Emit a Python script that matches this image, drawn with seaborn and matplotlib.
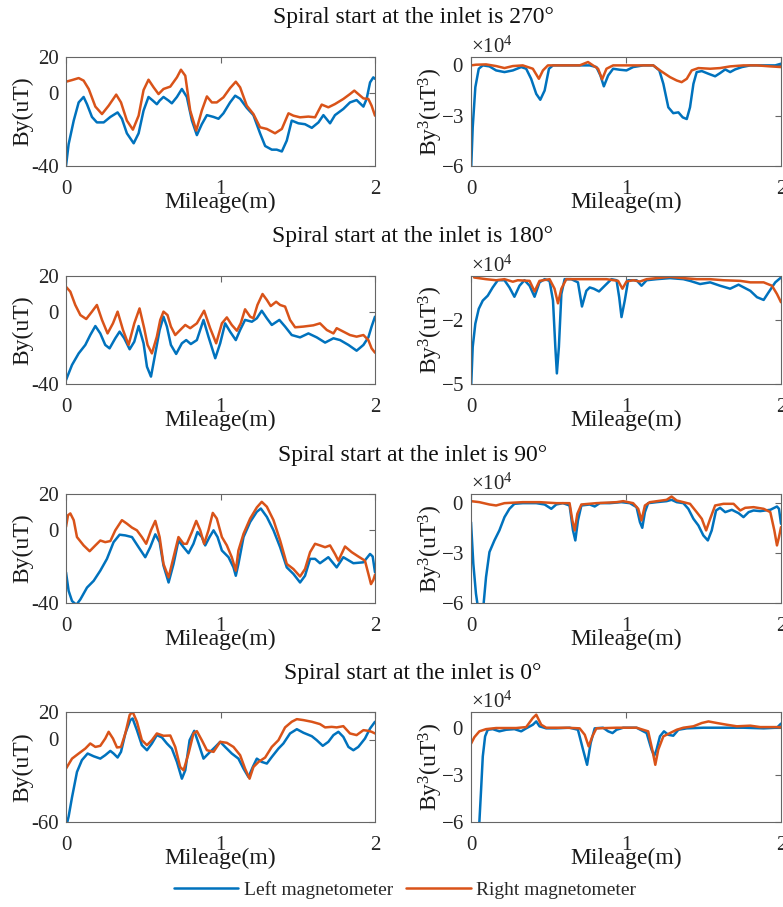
import numpy as np
import pandas as pd
import matplotlib
matplotlib.use("Agg")
import matplotlib.pyplot as plt
import seaborn as sns
from matplotlib.ticker import ScalarFormatter, FixedLocator

# ---------------- data ----------------
titles = ["Spiral start at the inlet is 270°", "Spiral start at the inlet is 180°",
          "Spiral start at the inlet is 90°", "Spiral start at the inlet is 0°"]
series_names = ["Left magnetometer", "Right magnetometer"]
colors = ["#0072BD", "#D95319"]
x_ticks = [0, 1, 2]

# ---- 270 deg ----
by270_left_x = [0,0.017,0.050,0.082,0.114,0.136,0.168,0.200,0.244,0.287,0.334,0.362,0.394,0.438,0.470,0.502,0.534,0.562,0.588,0.606,0.631,0.664,0.685,0.718,0.750,0.782,0.815,0.847,0.879,0.912,0.955,0.987,1.019,1.062,1.095,1.127,1.170,1.213,1.256,1.289,1.332,1.364,1.397,1.429,1.461,1.504,1.547,1.591,1.634,1.666,1.709,1.741,1.795,1.838,1.881,1.925,1.946,1.968,1.989,2.0]
by270_left_y = [-40,-28,-15,-5,-2,-6,-13,-16,-16,-13,-10.5,-14,-22,-27.5,-22,-9.5,-2,-4,-6,-4,-2,-4,-5.5,-2,2.4,-2,-15,-23,-17,-12,-13,-14,-11,-5,-1.3,-3,-8,-12,-22,-29,-31,-31,-32,-26,-15,-16.5,-17,-19,-16,-12,-16.5,-12,-8.6,-5,-3.7,-7.3,-3,6,8.8,8]
by270_right_x = [0,0.039,0.082,0.114,0.147,0.190,0.233,0.276,0.325,0.356,0.394,0.433,0.470,0.502,0.534,0.567,0.599,0.631,0.675,0.718,0.744,0.772,0.804,0.843,0.879,0.912,0.944,0.976,1.019,1.062,1.099,1.127,1.170,1.213,1.256,1.300,1.353,1.397,1.440,1.472,1.515,1.569,1.612,1.655,1.698,1.741,1.795,1.838,1.866,1.892,1.925,1.957,1.978,2.0]
by270_right_y = [6.4,7.3,8.4,7,2.4,-7.3,-11.4,-6.8,-0.7,-5,-15,-20,-12.3,1.8,7.5,3.3,-0.4,2.4,3.7,8.8,13,9.7,-9.5,-20.5,-9.5,-1.7,-5,-5,-2.2,2.9,6.4,3.3,-6.8,-11.4,-18.7,-19.6,-22,-19.6,-11,-12.3,-13.2,-12.8,-13.2,-6.2,-7.7,-5.9,-3.1,-0.4,1.5,-0.4,-2.8,-3.1,-6.8,-12.3]
cube270_left_x = [0,0.011,0.028,0.050,0.076,0.119,0.162,0.216,0.270,0.324,0.356,0.388,0.421,0.447,0.475,0.503,0.529,0.593,0.680,0.766,0.809,0.835,0.857,0.885,0.917,0.960,1.003,1.046,1.111,1.176,1.215,1.241,1.273,1.305,1.338,1.366,1.392,1.413,1.435,1.456,1.489,1.532,1.575,1.607,1.640,1.672,1.704,1.748,1.802,1.888,1.963,2.0]
cube270_left_y = [-6.4,-3.7,-1.3,-0.2,0,-0.06,-0.3,-0.4,-0.3,-0.1,-0.2,-0.8,-1.7,-2.05,-1.5,-0.2,0,0,0,0,-0.1,-0.6,-1.25,-0.6,-0.2,-0.26,-0.3,-0.1,0,0,-0.3,-1.1,-2.5,-2.85,-2.8,-3.1,-3.2,-2.5,-1.1,-0.4,-0.34,-0.5,-0.65,-0.46,-0.24,-0.4,-0.24,-0.1,0,0,0,0.1]
cube270_right_x = [0,0.032,0.097,0.162,0.216,0.270,0.334,0.399,0.438,0.464,0.496,0.593,0.701,0.755,0.787,0.820,0.846,0.874,0.917,1.025,1.176,1.219,1.284,1.327,1.359,1.392,1.424,1.467,1.543,1.607,1.672,1.758,1.845,1.931,2.0]
cube270_right_y = [0,0.04,0.06,-0.04,-0.16,-0.04,0,-0.2,-0.8,-0.3,0,0,0,0.2,0,-0.2,-0.83,-0.2,0,0,0,-0.3,-0.7,-0.9,-1.0,-0.8,-0.3,-0.16,-0.2,-0.16,-0.06,0,0,-0.06,-0.1]

# ---- 180 deg ----
by180_left_x = [0,0.039,0.082,0.125,0.157,0.190,0.222,0.254,0.282,0.319,0.347,0.377,0.412,0.442,0.470,0.502,0.524,0.550,0.578,0.606,0.631,0.653,0.679,0.713,0.750,0.778,0.808,0.847,0.890,0.922,0.966,0.998,1.030,1.062,1.099,1.127,1.159,1.203,1.235,1.267,1.300,1.332,1.381,1.418,1.461,1.515,1.569,1.623,1.677,1.731,1.774,1.828,1.881,1.925,1.957,1.978,2.0]
by180_left_y = [-37.8,-29.4,-23,-18.3,-12.8,-7.8,-11.9,-18.3,-20.2,-14.6,-10.9,-14.6,-20.7,-16.5,-7.8,-17.4,-30.4,-35.9,-23,-10,-2.6,-8.1,-18.3,-23.3,-17.4,-15.6,-17.8,-15.6,-4.4,-13.7,-25.7,-17.4,-6.3,-10.9,-15.6,-10,-4.4,-5.4,-3.5,0.7,-3.5,-7.2,-4.4,-8.1,-12.8,-14.1,-11.9,-14.1,-17,-14.6,-15.6,-18.3,-21.5,-18.3,-14.1,-8.1,-2.6]
by180_right_x = [0,0.028,0.060,0.093,0.131,0.168,0.200,0.233,0.269,0.304,0.334,0.369,0.405,0.442,0.476,0.506,0.528,0.556,0.588,0.610,0.631,0.657,0.679,0.707,0.739,0.772,0.804,0.847,0.894,0.933,0.972,1.009,1.041,1.073,1.106,1.131,1.159,1.192,1.213,1.239,1.272,1.300,1.325,1.360,1.386,1.418,1.450,1.483,1.537,1.601,1.644,1.688,1.731,1.752,1.795,1.838,1.881,1.925,1.957,1.978,2.0]
by180_right_y = [14,11.3,3.9,-1.7,-3.9,0.2,3.9,-4.4,-11.9,-6.3,0.2,-10,-18.3,-6.3,2,-9,-18.3,-23,-13.7,-4.4,0.2,-1.7,-8.1,-12.8,-10,-7.2,-9,-6.3,0.7,-9,-17.4,-6.3,-3,-7.2,-10.4,-6.3,1.5,-2.6,-3.5,3.9,10,6.7,3.3,5.7,3.9,3,-4.4,-8.5,-8.1,-7.4,-6.3,-10,-11.9,-9,-10.9,-12.8,-13.7,-12.8,-15.6,-20.2,-22.6]
cube180_left_x = [0,0.011,0.028,0.050,0.076,0.108,0.140,0.173,0.216,0.248,0.280,0.313,0.345,0.378,0.410,0.442,0.475,0.507,0.529,0.544,0.554,0.567,0.583,0.604,0.647,0.690,0.716,0.744,0.766,0.792,0.826,0.863,0.906,0.939,0.956,0.971,0.992,1.014,1.068,1.100,1.133,1.197,1.284,1.370,1.413,1.478,1.543,1.607,1.672,1.726,1.802,1.845,1.888,1.920,1.963,2.0]
cube180_left_y = [-5.3,-3.25,-2.15,-1.45,-1.06,-0.83,-0.44,-0.1,-0.1,-0.44,-0.88,-0.36,-0.1,-0.36,-0.88,-0.2,-0.05,-0.13,-1.06,-3.25,-4.5,-3.25,-0.75,-0.05,-0.05,-0.2,-1.34,-0.6,-0.44,-0.5,-0.63,-0.36,-0.05,-0.1,-0.9,-1.84,-1.06,-0.1,-0.1,-0.36,-0.1,-0.05,0,-0.05,-0.13,-0.28,-0.2,-0.36,-0.5,-0.31,-0.6,-0.9,-1.03,-0.67,-0.2,0.03]
cube180_right_x = [0.02,0.097,0.162,0.216,0.270,0.302,0.378,0.410,0.442,0.507,0.539,0.561,0.583,0.615,0.680,0.766,0.874,0.949,0.977,1.003,1.046,1.090,1.133,1.197,1.284,1.370,1.456,1.543,1.629,1.737,1.802,1.888,1.942,1.974,2.0]
cube180_right_y = [0.03,-0.05,-0.1,-0.05,-0.17,-0.1,-0.13,-0.63,-0.13,-0.05,-0.5,-1.19,-0.5,-0.05,-0.05,-0.05,-0.05,-0.13,-0.5,-0.16,-0.1,-0.16,-0.05,0,0.06,0,-0.05,-0.05,-0.1,-0.13,-0.2,-0.2,-0.36,-0.75,-1.14]

# ---- 90 deg ----
by90_left_x = [0,0.017,0.039,0.067,0.093,0.136,0.179,0.222,0.265,0.308,0.347,0.384,0.427,0.470,0.513,0.545,0.578,0.606,0.631,0.664,0.696,0.728,0.761,0.793,0.825,0.851,0.879,0.901,0.929,0.955,0.981,1.009,1.052,1.084,1.099,1.116,1.149,1.192,1.235,1.261,1.300,1.343,1.386,1.429,1.472,1.515,1.547,1.580,1.612,1.644,1.698,1.752,1.795,1.860,1.925,1.968,1.985,2.0]
by90_left_y = [-23.1,-33.3,-38.9,-41,-38,-31.5,-27.8,-22.2,-15.7,-6.5,-2.4,-2.8,-3.7,-9.3,-14.8,-9.3,-2.2,-6.5,-19.4,-28.7,-18.5,-5.6,-9.3,-12.6,-7.4,-0.9,-3.7,-8.3,-3.7,0,-3.7,-11.1,-14.8,-20.4,-25,-18.5,-3.7,4.6,10.2,12,7.4,0,-9.3,-20.4,-24,-28.7,-25,-15.7,-15.7,-18.1,-14.8,-20.4,-14.8,-18.1,-17.6,-13,-14.4,-23.1]
by90_right_x = [0,0.013,0.028,0.050,0.071,0.114,0.153,0.190,0.222,0.254,0.287,0.319,0.362,0.394,0.427,0.459,0.491,0.519,0.550,0.578,0.606,0.631,0.664,0.696,0.728,0.761,0.782,0.815,0.843,0.869,0.894,0.922,0.950,0.976,1.009,1.041,1.073,1.099,1.116,1.149,1.192,1.235,1.267,1.300,1.343,1.386,1.429,1.472,1.515,1.547,1.580,1.612,1.644,1.677,1.709,1.741,1.763,1.806,1.849,1.892,1.935,1.963,1.974,1.989,2.0]
by90_right_y = [1.9,8.3,9.3,5.6,-3.7,-8.3,-11.5,-8.3,-5.6,-6.5,-5.9,0,5.6,3.7,1.5,0,-3.7,-7.4,0,5.2,-3.7,-18.5,-25.9,-14.8,-3.7,-7.4,-7.4,-0.9,5.2,0,-7.4,0,9.6,6.5,-3.7,-8.3,-14.8,-22.2,-11.1,-1.9,6.5,12.6,15.7,13,5.6,-5.6,-18.5,-21.3,-25.4,-21.3,-12,-7.4,-8.3,-9.3,-8.3,-13,-16.7,-8.9,-12,-14.4,-16.7,-25.9,-29.6,-27.4,-24.4]
cube90_left_x = [0,0.015,0.032,0.050,0.076,0.097,0.119,0.151,0.183,0.216,0.248,0.280,0.334,0.421,0.475,0.518,0.550,0.593,0.636,0.658,0.673,0.690,0.712,0.766,0.798,0.831,0.895,0.971,1.025,1.068,1.090,1.105,1.122,1.143,1.197,1.262,1.294,1.327,1.370,1.402,1.435,1.467,1.499,1.528,1.553,1.581,1.607,1.640,1.683,1.726,1.758,1.791,1.823,1.866,1.931,1.974,1.987,2.0]
cube90_left_y = [-1.14,-3.64,-5.44,-6.6,-6.6,-4.44,-2.94,-2.24,-1.64,-0.84,-0.34,-0.04,0,0,-0.08,-0.34,-0.08,0,-0.14,-1.64,-2.24,-1.04,-0.14,-0.08,-0.2,0,0,0.06,0,-0.24,-1.14,-1.48,-0.54,0,0.06,0.12,0.2,0.06,0,-0.34,-0.94,-1.34,-1.94,-2.24,-1.64,-0.44,-0.28,-0.54,-0.4,-0.6,-0.84,-0.54,-0.44,-0.48,-0.4,-0.2,-0.34,-1.24]
cube90_right_x = [0,0.054,0.119,0.162,0.216,0.334,0.442,0.550,0.636,0.654,0.669,0.686,0.712,0.809,0.939,0.982,1.046,1.079,1.100,1.122,1.154,1.262,1.294,1.327,1.370,1.413,1.456,1.489,1.517,1.543,1.575,1.629,1.694,1.737,1.769,1.823,1.888,1.931,1.957,1.974,1.987,2.0]
cube90_right_y = [0.12,0.06,-0.08,-0.14,0,0.06,0.06,0,0,-1.04,-1.64,-0.64,-0.08,0,0.06,0.12,0,-0.34,-1.04,-0.14,0.06,0.2,0.4,0.16,0.06,-0.04,-0.54,-0.94,-1.64,-0.94,-0.14,-0.04,-0.04,-0.44,-0.28,-0.24,-0.34,-0.54,-1.64,-2.54,-2.04,-1.44]

# ---- 0 deg ----
by0_left_x = [0,0.017,0.039,0.071,0.103,0.140,0.179,0.222,0.254,0.287,0.308,0.334,0.356,0.384,0.416,0.431,0.459,0.491,0.524,0.556,0.588,0.621,0.653,0.685,0.718,0.750,0.772,0.800,0.830,0.858,0.890,0.922,0.966,0.998,1.030,1.073,1.116,1.149,1.181,1.209,1.235,1.267,1.300,1.332,1.375,1.407,1.450,1.494,1.537,1.591,1.623,1.662,1.698,1.731,1.763,1.795,1.828,1.860,1.892,1.935,1.968,2.0]
by0_left_y = [-64,-56,-42,-23.6,-15,-10.2,-12.2,-13.9,-11.4,-8.3,-10.2,-13.1,-9,4.4,14.1,15.3,6.8,-4.1,-7.8,-2.9,3.2,1.5,-2.9,-6.6,-16.3,-28.5,-22.4,-0.5,6.3,-2.9,-13.9,-10.2,-5.4,-1.7,-5.4,-10.2,-13.9,-21.2,-27.3,-20,-13.9,-16.3,-17.5,-12.7,-6.6,-2.9,4.4,7.5,4.9,2.4,-0.5,-4.6,-1.7,3.2,5.6,1.9,-5.4,-7.8,-5.4,0.7,8,12.9]
by0_right_x = [0,0.039,0.082,0.125,0.157,0.190,0.222,0.254,0.276,0.304,0.330,0.356,0.384,0.412,0.431,0.459,0.491,0.524,0.556,0.588,0.631,0.675,0.707,0.739,0.761,0.793,0.825,0.847,0.879,0.912,0.955,0.998,1.041,1.084,1.127,1.159,1.188,1.213,1.246,1.289,1.332,1.375,1.418,1.461,1.494,1.537,1.591,1.644,1.677,1.720,1.752,1.795,1.838,1.881,1.925,1.957,1.978,2.0]
by0_right_y = [-21.2,-13.9,-10.2,-6.6,-2.9,-5.4,-4.6,0.7,5.6,0.7,-5.8,-5.4,4.4,17.8,20.2,12.9,-0.5,-4.1,-0.5,4.4,2.7,2.9,-5.4,-20,-22.4,-10.2,4.4,6.1,-0.5,-7.8,-9,-1.7,-2.4,-5.4,-11.4,-21.2,-28.5,-20,-16.3,-13.1,-5.4,-0.5,8.8,12.9,14.8,14.1,12.9,11.2,8.8,9.2,8.8,9.7,4.4,3.2,6.8,6.3,5.6,4.4]
cube0_left_x = [0,0.040,0.054,0.065,0.076,0.091,0.108,0.140,0.183,0.227,0.280,0.324,0.356,0.399,0.421,0.442,0.485,0.550,0.636,0.690,0.723,0.749,0.772,0.798,0.852,0.885,0.913,0.939,0.982,1.068,1.133,1.165,1.182,1.197,1.219,1.245,1.273,1.305,1.338,1.392,1.499,1.629,1.758,1.888,1.974,2.0]
cube0_left_y = [-26,-9,-6,-3.96,-1.83,-0.55,-0.13,-0.09,-0.23,-0.13,-0.09,-0.23,-0.04,0.19,0.4,0.09,-0.04,-0.04,0,-0.13,-1.4,-2.36,-0.98,-0.04,0,-0.23,-0.34,-0.13,0,0,-0.34,-1.4,-1.79,-1.4,-0.55,-0.23,-0.45,-0.51,-0.13,-0.04,0,0,0,-0.04,0,0.26]
cube0_right_x = [0,0.022,0.054,0.097,0.162,0.291,0.356,0.399,0.421,0.453,0.485,0.615,0.701,0.734,0.759,0.783,0.809,0.939,1.068,1.143,1.172,1.189,1.208,1.241,1.284,1.327,1.370,1.435,1.489,1.532,1.586,1.650,1.715,1.802,1.866,1.931,2.0]
cube0_right_y = [-1.02,-0.6,-0.23,-0.09,-0.02,-0.02,0.04,0.62,0.83,0.19,0,0,-0.04,-0.45,-1.19,-0.55,-0.04,0,0,-0.23,-1.51,-2.36,-1.4,-0.55,-0.34,-0.13,0,0.09,0.3,0.4,0.3,0.19,0.09,0.13,0.04,0.04,0.04]

panels = [
    dict(by=[(by270_left_x, by270_left_y), (by270_right_x, by270_right_y)],
         cube=[(cube270_left_x, cube270_left_y), (cube270_right_x, cube270_right_y)],
         by_ylim=(-40, 20), by_ticks=[-40, 0, 20], cube_ylim=(-6, 0.5), cube_ticks=[-6, -3, 0]),
    dict(by=[(by180_left_x, by180_left_y), (by180_right_x, by180_right_y)],
         cube=[(cube180_left_x, cube180_left_y), (cube180_right_x, cube180_right_y)],
         by_ylim=(-40, 20), by_ticks=[-40, 0, 20], cube_ylim=(-5, 0.1), cube_ticks=[-5, -2]),
    dict(by=[(by90_left_x, by90_left_y), (by90_right_x, by90_right_y)],
         cube=[(cube90_left_x, cube90_left_y), (cube90_right_x, cube90_right_y)],
         by_ylim=(-40, 20), by_ticks=[-40, 0, 20], cube_ylim=(-6, 0.55), cube_ticks=[-6, -3, 0]),
    dict(by=[(by0_left_x, by0_left_y), (by0_right_x, by0_right_y)],
         cube=[(cube0_left_x, cube0_left_y), (cube0_right_x, cube0_right_y)],
         by_ylim=(-60, 20), by_ticks=[-60, 0, 20], cube_ylim=(-6, 1.0), cube_ticks=[-6, -3, 0]),
]
CUBE_UNIT = 1e4  # By^3 values above are read in units of 10^4 uT^3

# ---------------- style ----------------
sns.set_theme(style="white")
plt.rcParams.update({
    "font.family": ["Liberation Serif", "DejaVu Serif"],
    "mathtext.fontset": "custom",
    "mathtext.rm": "Liberation Serif",
    "mathtext.it": "Liberation Serif:italic",
    "mathtext.bf": "Liberation Serif:bold",
    "axes.unicode_minus": False,
    "axes.edgecolor": "#666666",
    "axes.linewidth": 0.8,
    "xtick.color": "#666666",
    "ytick.color": "#666666",
    "xtick.labelcolor": "#262626",
    "ytick.labelcolor": "#262626",
})

W, H = 783, 907
fig = plt.figure(figsize=(W / 100, H / 100), dpi=100)

rows_px = [(57, 166), (276, 384), (494, 603), (712, 822)]
title_base_px = [23, 242, 461, 679]
left_px = (66, 375)
right_px = (471, 781)

TICK_FS = 15
LAB_FS = 17
LW = 1.8


def make_ax(xpx, ypx):
    return fig.add_axes([xpx[0] / W, 1 - ypx[1] / H, (xpx[1] - xpx[0]) / W, (ypx[1] - ypx[0]) / H])


def style_ax(ax, ypx):
    ax.set_xlim(0, 2)
    ax.xaxis.set_major_locator(FixedLocator(x_ticks))
    ax.tick_params(direction="in", top=True, right=True, length=4, width=0.8,
                   labelsize=TICK_FS, pad=5)
    ax.tick_params(axis="x", pad=10)
    for s in ax.spines.values():
        s.set_visible(True)
        s.set_color("#666666")
        s.set_linewidth(0.8)
    ax.set_xlabel("Mileage(m)", fontsize=LAB_FS, va="center", color="#1a1a1a")
    ax.xaxis.set_label_coords(0.5, -36 / (ypx[1] - ypx[0]))


handles = []
for i, p in enumerate(panels):
    axl = make_ax(left_px, rows_px[i])
    axr = make_ax(right_px, rows_px[i])
    for k, (xs, ys) in enumerate(p["by"]):
        df = pd.DataFrame({"Mileage": xs, "By": ys})
        sns.lineplot(data=df, x="Mileage", y="By", ax=axl, color=colors[k], lw=LW,
                     estimator=None, sort=False, legend=False,
                     solid_joinstyle="round", solid_capstyle="round")
    for k, (xs, ys) in enumerate(p["cube"]):
        df = pd.DataFrame({"Mileage": xs, "By3": np.array(ys) * CUBE_UNIT})
        sns.lineplot(data=df, x="Mileage", y="By3", ax=axr, color=colors[k], lw=LW,
                     estimator=None, sort=False, legend=False,
                     solid_joinstyle="round", solid_capstyle="round")
    style_ax(axl, rows_px[i])
    style_ax(axr, rows_px[i])
    axl.set_ylim(*p["by_ylim"])
    axl.yaxis.set_major_locator(FixedLocator(p["by_ticks"]))
    axl.set_ylabel("By(uT)", fontsize=LAB_FS, color="#1a1a1a", va="center")
    axl.yaxis.set_label_coords(-43 / 309, 0.5)

    axr.set_ylim(p["cube_ylim"][0] * CUBE_UNIT, p["cube_ylim"][1] * CUBE_UNIT)
    axr.yaxis.set_major_locator(FixedLocator([t * CUBE_UNIT for t in p["cube_ticks"]]))
    fmt = ScalarFormatter(useMathText=True)
    fmt.set_powerlimits((0, 0))
    axr.yaxis.set_major_formatter(fmt)
    axr.yaxis.get_offset_text().set_fontsize(TICK_FS)
    axr.yaxis.get_offset_text().set_color("#262626")
    axr.set_ylabel("By$^3$(uT$^3$)", fontsize=LAB_FS, color="#1a1a1a", va="center")
    axr.yaxis.set_label_coords(-40 / 310, 0.5)

    fig.text(413 / W, 1 - title_base_px[i] / H, titles[i], ha="center", va="baseline",
             fontsize=LAB_FS, color="#111111")

    if i == 0:
        handles = [axl.lines[0], axl.lines[1]]

fig.legend(handles, series_names, loc="center", bbox_to_anchor=(405 / W, 1 - 890 / H),
           ncol=2, frameon=False, fontsize=14, handlelength=3.3, handletextpad=0.3,
           columnspacing=0.7)

fig.savefig("out.png", dpi=100)
